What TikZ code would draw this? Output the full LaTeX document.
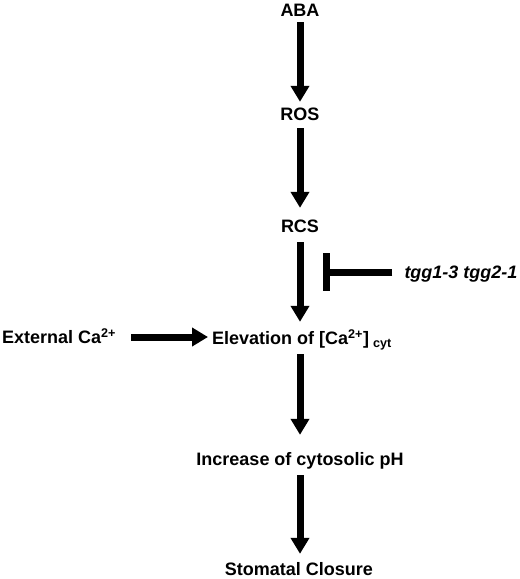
\documentclass[tikz,border=0pt]{standalone}
\usepackage{fontspec}
\setmainfont{Liberation Sans}
\usetikzlibrary{arrows.meta}

\tikzset{
  label/.style={inner sep=0pt, text height=13pt, text depth=0pt,
    font=\fontsize{18}{21}\selectfont\bfseries},
  fat arrow/.style={line width=7pt, -{Triangle[width=18pt,length=16pt]}},
}

\begin{document}
\begin{tikzpicture}[x=1pt, y=-1pt]
      \useasboundingbox (0, 0) rectangle (520, 579);

      \node[label] (aba) at (300, 9.5) {ABA};
      \node[label] (ros) at (300, 114) {ROS};
      \node[label] (rcs) at (300, 226) {RCS};
      \node[label] (elev) at (302, 338) {Elevation of [Ca\textsuperscript{2+}]\hspace{4pt}\textsubscript{cyt}};
      \node[label] (ext) at (59, 337) {External Ca\textsuperscript{2+}};
      \node[label] (incr) at (300, 458.5) {Increase of cytosolic pH};
      \node[label] (clos) at (299, 568.5) {Stomatal Closure};
      \node[label, font=\fontsize{18}{21}\selectfont\bfseries\itshape] (tgg) at (461, 272) {tgg1-3 tgg2-1};
      \coordinate (bar) at (326.5, 272);

      \draw[fat arrow, shorten <=6pt, shorten >=5.5pt] (aba.south) -- (ros.north);
      \draw[fat arrow, shorten <=7.5pt, shorten >=11.5pt] (ros.south) -- (rcs.north);
      \draw[fat arrow, shorten <=9.5pt, shorten >=9.5pt] (rcs.south) -- (rcs.south |- elev.north);
      \draw[fat arrow, shorten <=9.5pt, shorten >=17pt] (elev.south -| incr.north) -- (incr.north);
      \draw[fat arrow, shorten <=10pt, shorten >=8pt] (incr.south) -- (incr.south |- clos.north);
      \draw[fat arrow, shorten <=15pt, shorten >=4pt] (ext.east) -- (ext.east -| elev.west);

      \draw[line width=7pt, shorten <=12pt] (tgg.west) -- (bar);
      \draw[line width=7pt] (bar) ++(0, -19) -- ++(0, 38);
  \end{tikzpicture}
\end{document}
